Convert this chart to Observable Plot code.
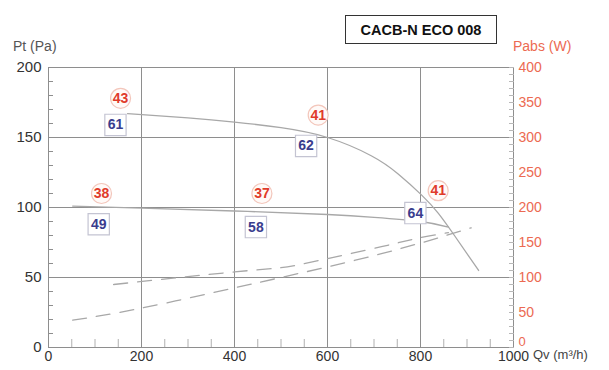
<!DOCTYPE html>
<html>
<head>
<meta charset="utf-8">
<script src="https://cdn.jsdelivr.net/npm/d3@7"></script>
<script src="https://cdn.jsdelivr.net/npm/@observablehq/plot@0.6"></script>
<style>
  html, body { margin: 0; padding: 0; background: #fff; }
  #wrap { position: relative; width: 609px; height: 370px; font-family: "Liberation Sans", Arial, sans-serif; }
  #wrap svg { position: absolute; left: 0; top: 0; }
  .title { position: absolute; left: 345px; top: 15px; width: 152px; height: 29px; border: 1px solid #333; box-sizing: border-box;
           font-weight: bold; font-size: 14.5px; line-height: 28px; text-align: center; color: #111; background: #fff; }
  .ylab { position: absolute; left: 13px; top: 38px; font-size: 14px; color: #555; }
  .rlab { position: absolute; left: 513px; top: 38px; font-size: 14px; color: #ec6a52; }
  .xlab { position: absolute; left: 533px; top: 347px; font-size: 13px; color: #444; white-space: nowrap; }
</style>
</head>
<body>
<div id="wrap">
  <div class="title">CACB-N ECO 008</div>
  <div class="ylab">Pt (Pa)</div>
  <div class="rlab">Pabs (W)</div>
  <div class="xlab">Qv (m³/h)</div>
</div>
<script>
// Pressure curves (Pt, Pa) vs flow (Qv, m3/h)
const highQ  = [170, 300, 400, 500, 600, 694, 752, 802, 838, 873, 925];
const highPt = [167, 164, 161, 157, 150, 137, 124, 109, 96, 80, 55];
const lowQ   = [52, 200, 400, 600, 700, 800, 860];
const lowPt  = [101, 99.5, 97.5, 95, 93, 90, 86];
// Power curves (Pabs, W)
const powAQ = [140, 400, 500, 580, 716, 800, 860];
const powAW = [90, 108, 114, 124, 144, 157, 164];
const powBQ = [52, 198, 392, 500, 716, 909];
const powBW = [39, 56, 84, 100, 134, 171];
// Point labels
const redText = ["43", "41", "38", "37", "41"];
const redQ    = [155, 580, 114, 459, 838];
const redPt   = [178, 166, 110, 110, 112];
const blueText = ["61", "62", "49", "58", "64"];
const blueQ    = [144, 554, 108, 446, 789];
const bluePt   = [159, 144, 88, 86, 96];
// Axis ticks
const xTicks = [0, 200, 400, 600, 800, 1000];
const xMinor = [50, 100, 150, 250, 300, 350, 450, 500, 550, 650, 700, 750, 850, 900, 950];
const xGrid = [200, 400, 600, 800];
const yTicks = [0, 50, 100, 150, 200];
const yGrid = [50, 100, 150, 200];
const wTicks = [50, 100, 150, 200, 250, 300, 350, 400];
const wZero = [0];

const zip = (a, b, ka, kb) => a.map((v, i) => ({[ka]: v, [kb]: b[i]}));
const high = zip(highQ, highPt, "q", "p");
const low = zip(lowQ, lowPt, "q", "p");
const powA = zip(powAQ, powAW, "q", "w");
const powB = zip(powBQ, powBW, "q", "w");
const reds = redText.map((t, i) => ({t, q: redQ[i], p: redPt[i]}));
const blues = blueText.map((t, i) => ({t, q: blueQ[i], p: bluePt[i]}));
const wScale = 2; // 400 W at top <-> 200 Pa

const gridC = "#8e8e8e", curveC = "#a8a8a8", salmon = "#ec6a52";

const chart = Plot.plot({
  width: 609, height: 370,
  marginLeft: 48, marginRight: 96, marginTop: 67, marginBottom: 23,
  x: {domain: [0, 1000]},
  y: {domain: [0, 200]},
  style: {fontFamily: "'Liberation Sans', Arial, sans-serif", background: "transparent", color: "#333"},
  marks: [
    Plot.ruleX(xGrid, {stroke: gridC, strokeWidth: 1}),
    Plot.ruleY(yGrid, {stroke: gridC, strokeWidth: 1}),
    Plot.ruleX([0, 1000], {stroke: gridC, strokeWidth: 1}),
    Plot.ruleY([0], {stroke: gridC, strokeWidth: 1}),
    // minor ticks
    Plot.axisY({ticks: d3.range(0, 201, 10), tickSize: 5, dx: 5, tickFormat: () => "", stroke: gridC, label: null}),
    Plot.axisX({ticks: xMinor, tickSize: 8, dy: -8, tickFormat: () => "", stroke: "#b0b0b0", label: null}),
    Plot.axisY({anchor: "right", ticks: d3.range(0, 201, 5), tickSize: 5, dx: -5, tickFormat: () => "", stroke: "#b8b8b8", label: null}),
    // tick labels
    Plot.axisY({ticks: yTicks, tickSize: 0, tickPadding: 7, fontSize: 15, color: "#333", label: null}),
    Plot.axisX({ticks: xTicks, tickSize: 0, tickPadding: 4, fontSize: 14, color: "#333", tickFormat: d => String(d), label: null}),
    Plot.axisY({anchor: "right", ticks: wTicks.map(w => w / wScale), tickFormat: d => String(d * wScale), tickSize: 0, tickPadding: 5, fontSize: 14, color: salmon, label: null}),
    Plot.axisY({anchor: "right", ticks: wZero, tickFormat: d => String(d), tickSize: 0, tickPadding: 5, dy: -6, fontSize: 13, color: salmon, label: null}),
    // curves
    Plot.line(high, {x: "q", y: "p", curve: "natural", stroke: curveC, strokeWidth: 1.3}),
    Plot.line(low, {x: "q", y: "p", curve: "natural", stroke: curveC, strokeWidth: 1.3}),
    Plot.line(powA, {x: "q", y: d => d.w / wScale, curve: "natural", stroke: curveC, strokeWidth: 1.3, strokeDasharray: "14,10"}),
    Plot.line(powB, {x: "q", y: d => d.w / wScale, curve: "natural", stroke: curveC, strokeWidth: 1.3, strokeDasharray: "14,10"}),
    // labels
    Plot.dot(reds, {x: "q", y: "p", r: 10, fill: "#fffaf8", stroke: "#f3c6bb", strokeWidth: 1.2}),
    Plot.text(reds, {x: "q", y: "p", text: "t", fill: "#e03a2a", fontSize: 14, fontWeight: "bold"}),
    Plot.dot(blues, {x: "q", y: "p", symbol: "square", r: 12, fill: "#ffffff", stroke: "#c4c4d2", strokeWidth: 1.2}),
    Plot.text(blues, {x: "q", y: "p", text: "t", fill: "#3a3d8e", fontSize: 14, fontWeight: "bold"})
  ]
});
document.getElementById("wrap").prepend(chart);
</script>
</body>
</html>
